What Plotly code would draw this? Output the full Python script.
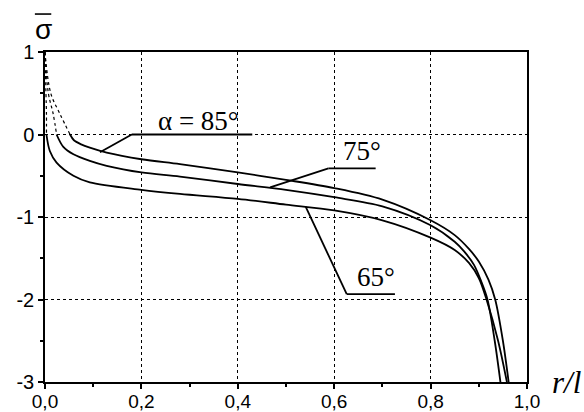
import plotly.graph_objects as go

# ---- data ----
x_tick_vals = [0.0, 0.2, 0.4, 0.6, 0.8, 1.0]
x_tick_text = ["0,0", "0,2", "0,4", "0,6", "0,8", "1,0"]
y_tick_vals = [-3, -2, -1, 0, 1]
y_tick_text = ["-3", "-2", "-1", "0", "1"]

# solid parts of the three curves
x_85 = [0.052, 0.060, 0.075, 0.093, 0.128, 0.20, 0.28, 0.40, 0.50, 0.60, 0.70, 0.80, 0.85, 0.88, 0.90, 0.92, 0.934, 0.950, 0.963]
y_85 = [0.0, -0.07, -0.12, -0.16, -0.22, -0.30, -0.36, -0.46, -0.55, -0.65, -0.79, -1.04, -1.22, -1.39, -1.54, -1.76, -2.0, -2.5, -3.05]

x_75 = [0.024, 0.038, 0.059, 0.093, 0.128, 0.20, 0.28, 0.40, 0.50, 0.60, 0.70, 0.80, 0.85, 0.87, 0.89, 0.905, 0.918, 0.933, 0.946]
y_75 = [0.0, -0.15, -0.24, -0.32, -0.38, -0.46, -0.51, -0.60, -0.67, -0.76, -0.87, -1.10, -1.30, -1.42, -1.58, -1.78, -2.0, -2.5, -3.05]

x_65 = [0.003, 0.010, 0.024, 0.059, 0.093, 0.20, 0.28, 0.40, 0.50, 0.60, 0.70, 0.80, 0.85, 0.88, 0.90, 0.916, 0.940, 0.960]
y_65 = [0.0, -0.20, -0.34, -0.50, -0.58, -0.67, -0.72, -0.78, -0.85, -0.92, -1.04, -1.25, -1.40, -1.56, -1.74, -2.0, -2.5, -3.05]

# dotted parts near the origin
xd_85 = [0.0, 0.012, 0.031, 0.052]
yd_85 = [1.0, 0.5, 0.25, 0.0]
xd_75 = [0.0, 0.007, 0.017, 0.024]
yd_75 = [1.0, 0.5, 0.25, 0.0]
xd_65 = [0.0, 0.002, 0.003, 0.003]
yd_65 = [1.0, 0.5, 0.25, 0.0]

labels = ["\u03b1 = 85\u00b0", "75\u00b0", "65\u00b0"]

fig = go.Figure()
for xs, ys in [(x_85, y_85), (x_75, y_75), (x_65, y_65)]:
    fig.add_trace(go.Scatter(x=xs, y=ys, mode="lines",
                             line=dict(color="black", width=1.8, shape="spline", smoothing=0.9),
                             showlegend=False, hoverinfo="skip"))
for xs, ys in [(xd_85, yd_85), (xd_75, yd_75), (xd_65, yd_65)]:
    fig.add_trace(go.Scatter(x=xs, y=ys, mode="lines",
                             line=dict(color="black", width=1.2, dash="dot", shape="spline"),
                             showlegend=False, hoverinfo="skip"))

ann_font = dict(family="Liberation Serif, Times New Roman, serif", size=27, color="black")
lead = dict(color="black", width=1.8)
# 85 leader
fig.add_shape(type="line", x0=0.114, y0=-0.215, x1=0.18, y1=0.0, line=lead)
fig.add_shape(type="line", x0=0.18, y0=0.0, x1=0.43, y1=0.0, line=lead)
fig.add_annotation(x=0.318, y=0.0, xanchor="center", yanchor="bottom", yshift=-3,
                   text=labels[0], showarrow=False, font=ann_font)
# 75 leader
fig.add_shape(type="line", x0=0.467, y0=-0.64, x1=0.588, y1=-0.41, line=lead)
fig.add_shape(type="line", x0=0.588, y0=-0.41, x1=0.686, y1=-0.41, line=lead)
fig.add_annotation(x=0.657, y=-0.41, xanchor="center", yanchor="bottom", yshift=0,
                   text=labels[1], showarrow=False, font=ann_font)
# 65 leader
fig.add_shape(type="line", x0=0.541, y0=-0.878, x1=0.626, y1=-1.935, line=lead)
fig.add_shape(type="line", x0=0.626, y0=-1.935, x1=0.726, y1=-1.935, line=lead)
fig.add_annotation(x=0.686, y=-1.935, xanchor="center", yanchor="bottom", yshift=0,
                   text=labels[2], showarrow=False, font=ann_font)

# axis titles (paper coords: plot area spans 482 x 330 px)
fig.add_annotation(xref="paper", yref="paper", x=-0.004, y=1.067, xanchor="center", yanchor="middle",
                   text="\u03c3", showarrow=False,
                   font=dict(family="Liberation Sans, Arial, sans-serif", size=28, color="black"))
fig.add_shape(type="line", xref="paper", yref="paper", x0=-0.021, x1=0.013, y0=1.115, y1=1.115,
              line=dict(color="black", width=1.6))
fig.add_annotation(xref="paper", yref="paper", x=1.081, y=0.0, xanchor="center", yanchor="middle",
                   text="<i>r/l</i>", showarrow=False,
                   font=dict(family="Liberation Serif, Times New Roman, serif", size=31, color="black"))

axis_common = dict(showline=True, linecolor="black", linewidth=1.5, mirror=True,
                   ticks="outside", ticklen=5, tickwidth=1.5, tickcolor="black",
                   showgrid=True, gridcolor="black", gridwidth=0.7, griddash="dot",
                   zeroline=False, automargin=False)

fig.update_xaxes(range=[0, 1], tickvals=x_tick_vals, ticktext=x_tick_text,
                 minor=dict(ticks="outside", ticklen=3, tickwidth=1.5, tickcolor="black", dtick=0.1, showgrid=False),
                 ticklabelstandoff=-4,
                 tickfont=dict(family="Liberation Sans, Arial, sans-serif", size=19, color="black"),
                 **axis_common)
fig.update_yaxes(range=[-3, 1], tickvals=y_tick_vals, ticktext=y_tick_text,
                 minor=dict(ticks="outside", ticklen=3, tickwidth=1.5, tickcolor="black", dtick=0.5, showgrid=False),
                 tickfont=dict(family="Liberation Sans, Arial, sans-serif", size=20, color="black"),
                 **axis_common)

fig.update_layout(width=584, height=412, margin=dict(l=45, r=57, t=52, b=30),
                  paper_bgcolor="white", plot_bgcolor="white", showlegend=False)

fig.write_html("out.html", config={"displayModeBar": False},
               post_script="document.body.style.margin='0';document.body.style.overflow='hidden';")
